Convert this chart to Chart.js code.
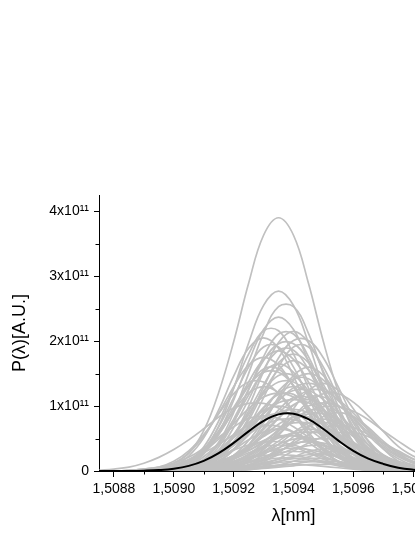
<!DOCTYPE html>
<html>
<head>
<meta charset="utf-8">
<script src="https://cdn.jsdelivr.net/npm/chart.js@4.4.1/dist/chart.umd.min.js"></script>
<style>
  html, body { margin: 0; padding: 0; background: #fff; overflow: hidden; }
  #chart { display: block; }
</style>
</head>
<body>
<canvas id="chart" width="500" height="537"></canvas>
<script>
// wavelength grid (nm)
const lambdaNm = [1.50875, 1.5088, 1.50885, 1.5089, 1.50895, 1.509, 1.50905, 1.5091, 1.50915, 1.5092,
  1.50925, 1.5093, 1.50935, 1.5094, 1.50945, 1.5095, 1.50955, 1.5096, 1.50965, 1.5097,
  1.50975, 1.5098, 1.50985, 1.5099, 1.50995, 1.51];

// averaged spectrum, units of 1e11 (black curve)
const meanSpectrum = [0, 0, 0, .005, .015, .036, .079, .156, .275, .433, .611, .772, .872, .882, .798, .646, .468, .31, .19, .11, .05, .02, .007, .002, 0, 0];

// single-shot spectra, units of 1e11 (grey curves)
const shotSpectra = [
  [0,0,0,0,.04,.12,.27,.62,1.21,1.99,2.89,3.63,3.90,3.63,2.89,1.99,1.21,.62,.27,.12,.04,0,0,0,0,0],
  [0,0,0,0,0,.03,.11,.30,.69,1.27,1.97,2.55,2.77,2.55,1.97,1.27,.69,.30,.11,.03,0,0,0,0,0,0],
  [0,0,0,0,0,.03,.08,.18,.44,.90,1.50,2.12,2.53,2.53,2.12,1.50,.90,.44,.18,.08,.03,0,0,0,0,0],
  [0,0,0,0,0,.02,.09,.26,.59,1.09,1.68,2.18,2.37,2.18,1.68,1.09,.59,.26,.09,.02,0,0,0,0,0,0],
  [0,0,0,0,0,.02,.06,.15,.37,.75,1.25,1.76,2.11,2.11,1.76,1.25,.75,.37,.15,.06,.02,0,0,0,0,0],
  [0,0,0,0,0,0,.02,.09,.24,.54,.99,1.53,1.98,2.15,1.98,1.53,.99,.54,.24,.09,.02,0,0,0,0,0],
  [0,0,0,0,.02,.08,.23,.51,.94,1.46,1.89,2.05,1.89,1.46,.94,.51,.23,.08,.02,0,0,0,0,0,0,0],
  [0,0,0,0,.02,.04,.08,.22,.44,.80,1.26,1.70,1.96,1.96,1.70,1.26,.80,.44,.22,.08,.04,.02,0,0,0,0],
  [0,0,0,0,.02,.06,.14,.33,.68,1.13,1.60,1.91,1.91,1.60,1.13,.68,.33,.14,.06,.02,0,0,0,0,0,0],
  [0,0,0,0,0,0,.02,.06,.14,.33,.68,1.13,1.60,1.91,1.91,1.60,1.13,.68,.33,.14,.06,.02,0,0,0,0],
  [0,0,0,0,.02,.06,.13,.30,.57,.94,1.37,1.72,1.85,1.72,1.37,.94,.57,.30,.13,.06,.02,0,0,0,0,0],
  [0,0,0,.02,.05,.12,.28,.54,.89,1.30,1.63,1.75,1.63,1.30,.89,.54,.28,.12,.05,.02,0,0,0,0,0,0],
  [0,0,0,0,0,0,.02,.07,.19,.43,.78,1.21,1.56,1.70,1.56,1.21,.78,.43,.19,.07,.02,0,0,0,0,0],
  [0,0,0,0,0,0,0,.02,.06,.18,.40,.74,1.14,1.47,1.60,1.47,1.14,.74,.40,.18,.06,.02,0,0,0,0],
  [0,0,0,.02,.03,.06,.17,.34,.62,.98,1.32,1.52,1.52,1.32,.98,.62,.34,.17,.06,.03,.02,0,0,0,0,0],
  [0,0,0,0,0,.02,.05,.11,.26,.53,.87,1.23,1.47,1.47,1.23,.87,.53,.26,.11,.05,.02,0,0,0,0,0],
  [0,0,0,0,0,.01,.03,.06,.16,.32,.58,.91,1.23,1.42,1.42,1.23,.91,.58,.32,.16,.06,.03,.01,0,0,0],
  [0,0,.01,.03,.06,.15,.31,.56,.88,1.19,1.37,1.37,1.19,.88,.56,.31,.15,.06,.03,.01,0,0,0,0,0,0],
  [0,0,0,0,0,.01,.04,.09,.19,.34,.55,.82,1.08,1.28,1.35,1.28,1.08,.82,.55,.34,.19,.09,.04,.01,0,0],
  [0,0,0,0,0,.01,.04,.09,.21,.40,.66,.96,1.21,1.30,1.21,.96,.66,.40,.21,.09,.04,.01,0,0,0,0],
  [0,0,0,0,0,.01,.03,.05,.13,.24,.40,.64,.89,1.10,1.24,1.24,1.10,.89,.64,.40,.24,.13,.05,.03,.01,0],
  [0,0,0,.01,.04,.08,.17,.30,.49,.73,.96,1.14,1.20,1.14,.96,.73,.49,.30,.17,.08,.04,.01,0,0,0,0],
  [0,0,0,0,0,0,.01,.02,.05,.12,.23,.38,.61,.85,1.06,1.19,1.19,1.06,.85,.61,.38,.23,.12,.05,.02,.01],
  [0,0,0,0,0,0,.01,.03,.08,.20,.40,.67,.94,1.13,1.13,.94,.67,.40,.20,.08,.03,.01,0,0,0,0],
  [0,0,0,0,0,0,.01,.03,.08,.18,.34,.56,.81,1.02,1.10,1.02,.81,.56,.34,.18,.08,.03,.01,0,0,0],
  [.01,.03,.06,.12,.21,.33,.48,.65,.83,.97,1.04,1.04,.97,.83,.65,.48,.33,.21,.12,.06,.03,.01,0,0,0,0],
  [0,0,0,0,0,.01,.03,.06,.11,.20,.31,.46,.62,.79,.92,.99,.99,.92,.79,.62,.46,.31,.20,.11,.06,.03],
  [0,0,0,0,.01,.03,.07,.13,.24,.39,.58,.76,.90,.95,.90,.76,.58,.39,.24,.13,.07,.03,.01,0,0,0],
  [0,0,0,0,0,0,.01,.02,.04,.10,.20,.36,.57,.77,.88,.88,.77,.57,.36,.20,.10,.04,.02,.01,0,0],
  [0,0,.01,.03,.05,.10,.18,.28,.41,.56,.71,.83,.89,.89,.83,.71,.56,.41,.28,.18,.10,.05,.03,.01,0,0],
  [0,0,.01,.03,.06,.12,.21,.35,.52,.68,.81,.85,.81,.68,.52,.35,.21,.12,.06,.03,.01,0,0,0,0,0],
  [0,0,0,0,0,0,0,.01,.02,.06,.13,.25,.41,.59,.74,.80,.74,.59,.41,.25,.13,.06,.02,.01,0,0],
  [0,0,0,0,.01,.02,.03,.08,.14,.24,.38,.53,.66,.74,.74,.66,.53,.38,.24,.14,.08,.03,.02,.01,0,0],
  [0,0,0,0,0,0,0,.01,.02,.05,.10,.18,.29,.43,.56,.67,.70,.67,.56,.43,.29,.18,.10,.05,.02,.01],
  [0,0,0,0,.01,.02,.05,.10,.20,.33,.48,.60,.65,.60,.48,.33,.20,.10,.05,.02,.01,0,0,0,0,0],
  [0,0,0,.01,.01,.02,.05,.09,.15,.23,.32,.43,.52,.58,.60,.58,.52,.43,.32,.23,.15,.09,.05,.02,.01,.01],
  [0,0,0,0,0,0,.01,.02,.06,.14,.25,.39,.51,.55,.51,.39,.25,.14,.06,.02,.01,0,0,0,0,0],
  [0,0,0,0,0,0,.01,.02,.04,.07,.13,.21,.31,.40,.48,.50,.48,.40,.31,.21,.13,.07,.04,.02,.01,0],
  [0,0,0,.01,.02,.05,.09,.14,.23,.32,.40,.45,.45,.40,.32,.23,.14,.09,.05,.02,.01,0,0,0,0,0],
  [0,0,0,0,0,0,0,.01,.02,.04,.09,.16,.25,.34,.39,.39,.34,.25,.16,.09,.04,.02,.01,0,0,0],
  [0,0,0,0,0,.01,.02,.05,.09,.14,.21,.28,.33,.35,.33,.28,.21,.14,.09,.05,.02,.01,0,0,0,0],
  [0,0,0,0,0,0,0,0,0,.01,.02,.05,.09,.15,.22,.28,.30,.28,.22,.15,.09,.05,.02,.01,0,0],
  [0,0,0,0,.01,.02,.04,.06,.10,.15,.20,.24,.25,.24,.20,.15,.10,.06,.04,.02,.01,0,0,0,0,0],
  [0,0,0,0,0,0,0,0,.01,.03,.06,.10,.15,.19,.20,.19,.15,.10,.06,.03,.01,0,0,0,0,0],
  [0,0,0,0,0,0,.01,.02,.03,.05,.08,.11,.13,.15,.15,.13,.11,.08,.05,.03,.02,.01,0,0,0,0],
  [0,0,0,0,0,0,0,0,0,.01,.03,.04,.06,.08,.10,.10,.10,.08,.06,.04,.03,.01,0,0,0,0],
  [0,0,0,0,.02,.07,.15,.37,.77,1.28,1.80,2.16,2.16,1.80,1.28,.77,.37,.15,.07,.02,0,0,0,0,0,0],
  [0,0,0,0,0,.02,.04,.08,.23,.45,.82,1.29,1.74,2.01,2.01,1.74,1.29,.82,.45,.23,.08,.04,.02,0,0,0],
  [0,0,0,0,0,.02,.06,.13,.32,.67,1.10,1.56,1.86,1.86,1.56,1.10,.67,.32,.13,.06,.02,0,0,0,0,0],
  [0,0,0,0,0,.02,.05,.13,.29,.56,.92,1.33,1.67,1.80,1.67,1.33,.92,.56,.29,.13,.05,.02,0,0,0,0],
  [0,0,0,0,0,.02,.07,.18,.41,.76,1.17,1.52,1.65,1.52,1.17,.76,.41,.18,.07,.02,0,0,0,0,0,0],
  [0,0,0,0,.02,.05,.11,.27,.56,.93,1.31,1.57,1.57,1.31,.93,.56,.27,.11,.05,.02,0,0,0,0,0,0],
  [0,0,0,0,0,0,.02,.05,.11,.24,.47,.77,1.11,1.40,1.50,1.40,1.11,.77,.47,.24,.11,.05,.02,0,0,0],
  [0,0,0,0,.01,.03,.06,.15,.31,.56,.88,1.19,1.37,1.37,1.19,.88,.56,.31,.15,.06,.03,.01,0,0,0,0],
  [0,0,0,0,0,0,0,0,.01,.05,.15,.34,.62,.96,1.24,1.35,1.24,.96,.62,.34,.15,.05,.01,0,0,0],
  [0,0,0,0,.01,.05,.14,.33,.60,.92,1.20,1.30,1.20,.92,.60,.33,.14,.05,.01,0,0,0,0,0,0,0],
  [0,0,0,0,.01,.03,.05,.13,.24,.40,.64,.89,1.10,1.24,1.24,1.10,.89,.64,.40,.24,.13,.05,.03,.01,0,0],
  [0,0,0,0,0,.01,.04,.08,.20,.42,.70,.98,1.18,1.18,.98,.70,.42,.20,.08,.04,.01,0,0,0,0,0],
  [0,0,0,0,0,.01,.02,.05,.12,.22,.37,.59,.82,1.01,1.14,1.14,1.01,.82,.59,.37,.22,.12,.05,.02,.01,0],
  [0,0,0,0,.01,.03,.08,.15,.28,.45,.67,.88,1.05,1.10,1.05,.88,.67,.45,.28,.15,.08,.03,.01,0,0,0],
  [0,0,0,0,0,0,.01,.03,.07,.15,.26,.43,.64,.84,1.00,1.05,1.00,.84,.64,.43,.26,.15,.07,.03,.01,0],
  [0,0,0,0,.01,.03,.07,.16,.31,.51,.74,.93,1.00,.93,.74,.51,.31,.16,.07,.03,.01,0,0,0,0,0],
  [0,0,0,0,0,0,0,.01,.03,.07,.16,.33,.55,.78,.93,.93,.78,.55,.33,.16,.07,.03,.01,0,0,0],
  [0,0,0,0,0,0,0,0,.01,.03,.06,.14,.28,.46,.67,.84,.90,.84,.67,.46,.28,.14,.06,.03,.01,0],
  [0,0,0,0,0,.01,.02,.03,.09,.19,.34,.54,.72,.83,.83,.72,.54,.34,.19,.09,.03,.02,.01,0,0,0],
  [0,0,0,.01,.02,.03,.08,.15,.26,.41,.57,.70,.79,.79,.70,.57,.41,.26,.15,.08,.03,.02,.01,0,0,0],
  [0,0,0,0,0,0,0,0,.01,.03,.08,.19,.35,.53,.69,.75,.69,.53,.35,.19,.08,.03,.01,0,0,0],
  [0,0,0,.01,.01,.03,.08,.15,.28,.44,.60,.69,.69,.60,.44,.28,.15,.08,.03,.01,.01,0,0,0,0,0],
  [0,0,0,0,0,0,0,.01,.03,.07,.16,.30,.46,.60,.65,.60,.46,.30,.16,.07,.03,.01,0,0,0,0],
  [0,0,0,0,0,0,0,.01,.01,.02,.06,.11,.19,.31,.43,.53,.59,.59,.53,.43,.31,.19,.11,.06,.02,.01],
  [0,0,0,0,0,.01,.02,.06,.12,.22,.35,.47,.54,.54,.47,.35,.22,.12,.06,.02,.01,0,0,0,0,0],
  [0,0,0,0,0,0,.01,.02,.04,.09,.18,.29,.41,.49,.49,.41,.29,.18,.09,.04,.02,.01,0,0,0,0],
  [0,0,0,0,0,0,.01,.03,.06,.11,.18,.27,.36,.43,.45,.43,.36,.27,.18,.11,.06,.03,.01,0,0,0],
  [0,0,0,0,0,0,.02,.04,.10,.18,.28,.37,.40,.37,.28,.18,.10,.04,.02,0,0,0,0,0,0,0],
  [0,0,0,0,0,0,0,0,.01,.01,.04,.08,.14,.22,.30,.34,.34,.30,.22,.14,.08,.04,.01,.01,0,0],
  [0,0,0,0,0,0,0,.01,.03,.08,.14,.21,.28,.30,.28,.21,.14,.08,.03,.01,0,0,0,0,0,0],
  [0,0,0,0,0,0,0,.01,.03,.05,.08,.13,.18,.22,.25,.25,.22,.18,.13,.08,.05,.03,.01,0,0,0],
  [0,0,0,0,0,0,.01,.02,.04,.08,.13,.17,.20,.20,.17,.13,.08,.04,.02,.01,0,0,0,0,0,0],
  [0,0,0,0,0,0,0,0,0,.01,.02,.05,.08,.11,.14,.15,.14,.11,.08,.05,.02,.01,0,0,0,0],
  [0,0,0,0,0,0,0,0,.01,.03,.05,.07,.09,.10,.09,.07,.05,.03,.01,0,0,0,0,0,0,0]
];

// axis ticks
const xMajor = [1.5088, 1.509, 1.5092, 1.5094, 1.5096, 1.5098, 1.51];
const xLabels = ["1,5088", "1,5090", "1,5092", "1,5094", "1,5096", "1,5098", "1,5100"];
const xMinor = [1.5089, 1.5091, 1.5093, 1.5095, 1.5097, 1.5099];
const yMajor = [0, 1, 2, 3, 4];
const yLabels = ["0", "1x10\u00b9\u00b9", "2x10\u00b9\u00b9", "3x10\u00b9\u00b9", "4x10\u00b9\u00b9"];
const yMinor = [0.5, 1.5, 2.5, 3.5];

Chart.defaults.font.family = '"Liberation Sans", Arial, sans-serif';
Chart.defaults.color = "#000";

const toPoints = (vals) => vals.map((v, i) => ({ x: lambdaNm[i], y: v }));

const datasets = shotSpectra.map((s) => ({
  data: toPoints(s),
  borderColor: "#c0c0c0",
  borderWidth: 1.7,
  order: 1,
}));
datasets.push({
  data: toPoints(meanSpectrum),
  borderColor: "#000",
  borderWidth: 2,
  order: 0,
});

// short minor ticks outside the axes
const minorTicks = {
  id: "minorTicks",
  afterDraw(chart) {
    const { ctx, chartArea, scales } = chart;
    ctx.save();
    ctx.strokeStyle = "#000";
    ctx.lineWidth = 1;
    ctx.beginPath();
    xMinor.forEach((v) => {
      const px = Math.round(scales.x.getPixelForValue(v)) + 0.5;
      ctx.moveTo(px, chartArea.bottom);
      ctx.lineTo(px, chartArea.bottom + 3.5);
    });
    yMinor.forEach((v) => {
      const py = Math.round(scales.y.getPixelForValue(v)) + 0.5;
      ctx.moveTo(chartArea.left, py);
      ctx.lineTo(chartArea.left - 3.5, py);
    });
    ctx.stroke();
    ctx.restore();
  },
};

new Chart(document.getElementById("chart"), {
  type: "line",
  data: { datasets: datasets },
  options: {
    responsive: false,
    animation: false,
    devicePixelRatio: 1,
    layout: { padding: { top: 195, right: 12, left: 0, bottom: 0 } },
    elements: {
      point: { radius: 0 },
      line: { tension: 0.4, fill: false },
    },
    plugins: { legend: { display: false }, tooltip: { enabled: false } },
    scales: {
      x: {
        type: "linear",
        min: 1.50875,
        max: 1.51005,
        afterFit: (s) => { s.height = 66; },
        afterBuildTicks: (s) => { s.ticks = xMajor.map((v) => ({ value: v })); },
        grid: { drawOnChartArea: false, tickLength: 6, tickColor: "#000" },
        border: { color: "#000", width: 1 },
        ticks: {
          padding: 4,
          maxRotation: 0,
          font: { size: 14 },
          callback: (v, i) => xLabels[i],
        },
        title: { display: true, text: "\u03bb[nm]", font: { size: 18 }, padding: { top: 0, bottom: 10 } },
      },
      y: {
        min: 0,
        max: 4.25,
        afterFit: (s) => { s.width = 99; },
        afterBuildTicks: (s) => { s.ticks = yMajor.map((v) => ({ value: v })); },
        grid: { drawOnChartArea: false, tickLength: 5, tickColor: "#000" },
        border: { color: "#000", width: 1 },
        ticks: {
          padding: 5,
          font: { size: 14 },
          callback: (v, i) => yLabels[i],
        },
        title: { display: true, text: "P(\u03bb)[A.U.]", font: { size: 18 }, padding: { top: 9, bottom: 0 } },
      },
    },
  },
  plugins: [minorTicks],
});
</script>
</body>
</html>
